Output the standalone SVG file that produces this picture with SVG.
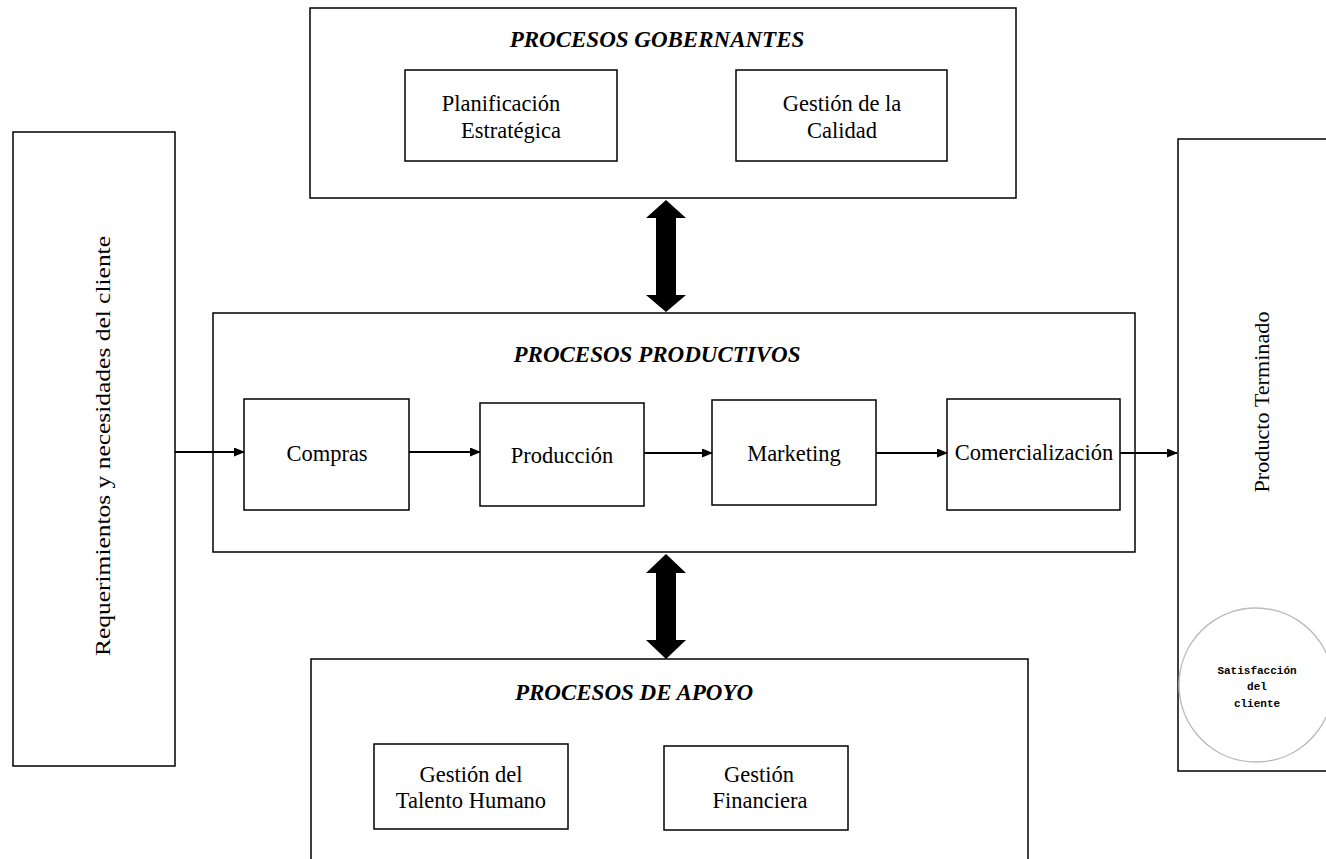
<svg xmlns="http://www.w3.org/2000/svg" width="1326" height="859" viewBox="0 0 1326 859">
<style>
.box{fill:#fff;stroke:#000;stroke-width:1.5}
.t{font-family:"Liberation Serif","Times New Roman",serif;font-size:22.5px;fill:#000;text-anchor:middle}
.v{font-family:"Liberation Serif","Times New Roman",serif;font-size:21px;fill:#000;text-anchor:middle}
.h{font-family:"Liberation Serif","Times New Roman",serif;font-size:23px;font-style:italic;font-weight:bold;fill:#000;text-anchor:middle}
.s{font-family:"Liberation Mono","Courier New",monospace;font-size:11px;font-weight:bold;fill:#000;text-anchor:middle}
.ln{stroke:#000;stroke-width:2;fill:none}
</style>
<defs>
<marker id="ah" markerWidth="11" markerHeight="9" refX="10" refY="4.5" orient="auto" markerUnits="userSpaceOnUse">
<path d="M0,0 L11,4.5 L0,9 Z" fill="#000"/>
</marker>
</defs>
<rect width="1326" height="859" fill="#fff"/>
<g id="cliente">
<rect class="box" x="13" y="132" width="162" height="634"/>
<text class="v" transform="translate(110,446) rotate(-90)" textLength="420" lengthAdjust="spacingAndGlyphs">Requerimientos y necesidades del cliente</text>
</g>
<g id="producto">
<rect class="box" x="1178" y="139" width="160" height="632"/>
<text class="v" transform="translate(1269,402) rotate(-90)" textLength="181" lengthAdjust="spacingAndGlyphs">Producto Terminado</text>
<circle cx="1256" cy="685" r="77" fill="#fff" stroke="#bbb" stroke-width="1.5"/>
<text class="s" x="1257" y="674">Satisfacción</text>
<text class="s" x="1257" y="690">del</text>
<text class="s" x="1257" y="707">cliente</text>
</g>
<g id="gobernantes">
<rect class="box" x="310" y="8" width="706" height="190"/>
<text class="h" x="657" y="47">PROCESOS GOBERNANTES</text>
</g>
<g id="planificacion">
<rect class="box" x="405" y="70" width="212" height="91"/>
<text class="t" x="501" y="111">Planificación</text>
<text class="t" x="511" y="138">Estratégica</text>
</g>
<g id="calidad">
<rect class="box" x="736" y="70" width="211" height="91"/>
<text class="t" x="842" y="111">Gestión de la</text>
<text class="t" x="842" y="138">Calidad</text>
</g>
<g id="productivos">
<rect class="box" x="213" y="313" width="922" height="239"/>
<text class="h" x="657" y="362">PROCESOS PRODUCTIVOS</text>
</g>
<g id="compras">
<rect class="box" x="244" y="399" width="165" height="111"/>
<text class="t" x="327" y="461">Compras</text>
</g>
<g id="produccion">
<rect class="box" x="480" y="403" width="164" height="103"/>
<text class="t" x="562" y="463">Producción</text>
</g>
<g id="marketing">
<rect class="box" x="712" y="400" width="164" height="105"/>
<text class="t" x="794" y="461">Marketing</text>
</g>
<g id="comercializacion">
<rect class="box" x="947" y="399" width="173" height="111"/>
<text class="t" x="1034" y="460">Comercialización</text>
</g>
<g id="apoyo">
<rect class="box" x="311" y="659" width="717" height="220"/>
<text class="h" x="634" y="700">PROCESOS DE APOYO</text>
</g>
<g id="talento">
<rect class="box" x="374" y="744" width="194" height="85"/>
<text class="t" x="471" y="782">Gestión del</text>
<text class="t" x="471" y="808">Talento Humano</text>
</g>
<g id="financiera">
<rect class="box" x="664" y="746" width="184" height="84"/>
<text class="t" x="759" y="782">Gestión</text>
<text class="t" x="760" y="808">Financiera</text>
</g>
<g id="connectors">
<line class="ln" x1="175" y1="452" x2="244" y2="452" marker-end="url(#ah)"/>
<line class="ln" x1="409" y1="452" x2="480" y2="452" marker-end="url(#ah)"/>
<line class="ln" x1="644" y1="453" x2="712" y2="453" marker-end="url(#ah)"/>
<line class="ln" x1="876" y1="453" x2="947" y2="453" marker-end="url(#ah)"/>
<line class="ln" x1="1120" y1="453" x2="1177" y2="453" marker-end="url(#ah)"/>
<path d="M666,200 L686,218 L676,218 L676,295 L686,295 L666,312 L646,295 L656,295 L656,218 L646,218 Z" fill="#000"/>
<path d="M666,554 L686,573 L676,573 L676,640 L686,640 L666,659 L646,640 L656,640 L656,573 L646,573 Z" fill="#000"/>
</g>
</svg>
